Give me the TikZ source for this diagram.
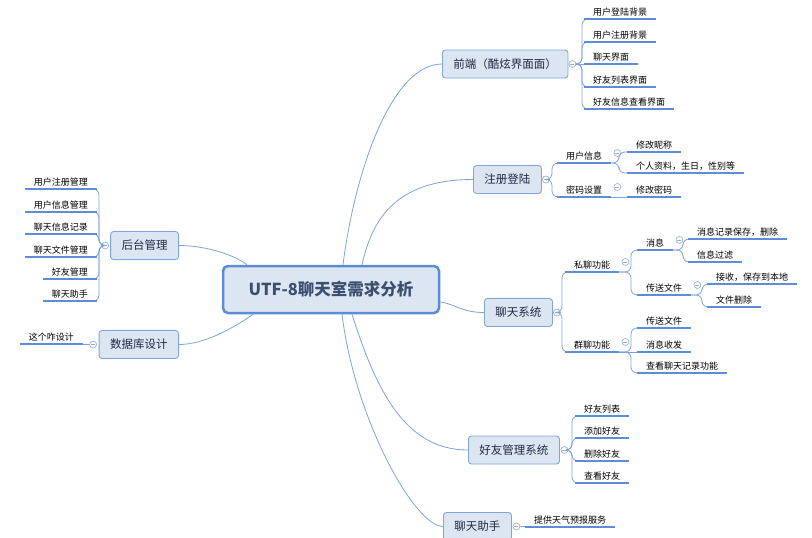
\documentclass[tikz,border=0pt]{standalone}
\usepackage{fontspec}
\newfontfamily\cjk{Noto Sans CJK SC}
\usetikzlibrary{calc}
\definecolor{linec}{HTML}{7BA3DD}
\definecolor{ulc}{HTML}{5B8ED6}
\definecolor{boxfill}{HTML}{DCE6F2}
\definecolor{boxdraw}{HTML}{7EA5DD}
\definecolor{cdraw}{HTML}{5A8DD5}
\definecolor{ctext}{HTML}{3B5070}
\definecolor{ttext}{HTML}{1F2A44}
\definecolor{btn}{HTML}{9DB2CF}
\tikzset{
  central/.style={draw=cdraw, line width=2.5pt, fill=boxfill, rounded corners=5pt, minimum width=216pt, minimum height=47pt, font=\cjk\fontsize{16.5}{19}\selectfont\bfseries, text=ctext},
  topic/.style={draw=boxdraw, line width=0.9pt, fill=boxfill, rounded corners=3pt, minimum height=28pt, inner xsep=11pt, font=\cjk\fontsize{11.5}{14}\selectfont, text=ttext},
  leaf/.style={inner xsep=9pt, inner ysep=2.5pt, font=\cjk\fontsize{9}{11}\selectfont, text=black},
  uline/.style={draw=ulc, line width=1.6pt},
  conn/.style={draw=linec, line width=0.8pt, rounded corners=6pt},
  curve/.style={draw=linec, line width=0.8pt},
  cbtn/.style={circle, draw=btn, fill=white, line width=0.7pt, minimum size=7pt, inner sep=0pt,
    path picture={\draw[btn, line width=0.6pt] ([xshift=-2pt]path picture bounding box.center) -- ([xshift=2pt]path picture bounding box.center);}},
}
\begin{document}
\begin{tikzpicture}[x=1pt, y=-1pt]
\useasboundingbox (0,0) rectangle (812,538);
% central and main topics
\node[central] (c) at (331,289.5) {UTF-8聊天室需求分析};
\node[topic, anchor=west] (fe) at (442,64) {前端（酷炫界面面）};
\node[topic, anchor=west] (zc) at (473,179.5) {注册登陆};
\node[topic, anchor=west] (lt) at (484,312.5) {聊天系统};
\node[topic, anchor=west] (hy) at (468,450) {好友管理系统};
\node[topic, anchor=west] (zs) at (443,526.5) {聊天助手};
\node[topic, anchor=east] (ht) at (179,245.5) {后台管理};
\node[topic, anchor=east] (db) at (179,344.5) {数据库设计};
% start points on the central topic
\coordinate (c-fe) at ([xshift=12pt]c.north);
\coordinate (c-zc) at ([xshift=31pt]c.north);
\coordinate (c-lt) at ([yshift=-12.5pt]c.east);
\coordinate (c-hy) at ([xshift=21pt]c.south);
\coordinate (c-zs) at ([xshift=11pt]c.south);
\coordinate (c-ht) at ([xshift=-84pt]c.north);
\coordinate (c-db) at ([xshift=-78pt]c.south);
% main curves
\draw[curve] (c-fe) .. controls (355,170) and (392,64) .. (fe.west);
\draw[curve] (c-zc) .. controls (372,220) and (395,179.5) .. (zc.west);
\draw[curve] (c-lt) .. controls (455,304) and (462,312.5) .. (lt.west);
\draw[curve] (c-hy) .. controls (376,390) and (405,450) .. (hy.west);
\draw[curve] (c-zs) .. controls (355,420) and (415,526.5) .. (zs.west);
\draw[curve] (c-ht) .. controls (230,252) and (200,245.5) .. (ht.east);
\draw[curve] (c-db) .. controls (235,327) and (205,344.5) .. (db.east);
% leaves
\node[leaf, anchor=south west] (fe1) at (584,19) {用户登陆背景};
\node[leaf, anchor=south west] (fe2) at (584,42) {用户注册背景};
\node[leaf, anchor=south west] (fe3) at (584,64) {聊天界面};
\node[leaf, anchor=south west] (fe4) at (584,87) {好友列表界面};
\node[leaf, anchor=south west] (fe5) at (584,109) {好友信息查看界面};
\node[leaf, anchor=south west] (zc1) at (557,163) {用户信息};
\node[leaf, anchor=south west] (zc2) at (557,197) {密码设置};
\node[leaf, anchor=south west] (zc11) at (627,152) {修改昵称};
\node[leaf, anchor=south west] (zc12) at (627,173) {个人资料，生日，性别等};
\node[leaf, anchor=south west] (zc21) at (627,197) {修改密码};
\node[leaf, anchor=south west] (lt1) at (565,272) {私聊功能};
\node[leaf, anchor=south west] (lt2) at (565,352) {群聊功能};
\node[leaf, anchor=south west] (lt11) at (637,250) {消息};
\node[leaf, anchor=south west] (lt12) at (637,295) {传送文件};
\node[leaf, anchor=south west] (lt111) at (688,239) {消息记录保存，删除};
\node[leaf, anchor=south west] (lt112) at (688,262) {信息过滤};
\node[leaf, anchor=south west] (lt121) at (707,284) {接收，保存到本地};
\node[leaf, anchor=south west] (lt122) at (707,307) {文件删除};
\node[leaf, anchor=south west] (lt21) at (637,328) {传送文件};
\node[leaf, anchor=south west] (lt22) at (637,352) {消息收发};
\node[leaf, anchor=south west] (lt23) at (637,373) {查看聊天记录功能};
\node[leaf, anchor=south west] (hy1) at (575,416) {好友列表};
\node[leaf, anchor=south west] (hy2) at (575,438) {添加好友};
\node[leaf, anchor=south west] (hy3) at (575,461) {删除好友};
\node[leaf, anchor=south west] (hy4) at (575,483) {查看好友};
\node[leaf, anchor=south west] (zs1) at (525,527) {提供天气预报服务};
\node[leaf, anchor=south east] (ht1) at (97,189) {用户注册管理};
\node[leaf, anchor=south east] (ht2) at (97,212) {用户信息管理};
\node[leaf, anchor=south east] (ht3) at (97,234) {聊天信息记录};
\node[leaf, anchor=south east] (ht4) at (97,257) {聊天文件管理};
\node[leaf, anchor=south east] (ht5) at (97,279) {好友管理};
\node[leaf, anchor=south east] (ht6) at (97,301) {聊天助手};
\node[leaf, anchor=south east] (db1) at (83,344) {这个咋设计};
% collapse buttons
\node[cbtn] (fe-c) at ([xshift=4pt]fe.east) {};
\node[cbtn] (zc-c) at ([xshift=4pt]zc.east) {};
\node[cbtn] (lt-c) at ([xshift=4pt]lt.east) {};
\node[cbtn] (hy-c) at ([xshift=4.5pt]hy.east) {};
\node[cbtn] (zs-c) at ([xshift=4.5pt]zs.east) {};
\node[cbtn] (ht-c) at ([xshift=-5pt]ht.west) {};
\node[cbtn] (db-c) at ([xshift=-5.5pt]db.west) {};
\foreach \n in {zc1,zc2,lt1,lt2,lt11,lt12}
  \node[cbtn] (\n-c) at ([xshift=6pt,yshift=10pt]\n.south east) {};
% elbow connectors
\foreach \n in {fe1,fe2,fe4,fe5}
  \draw[conn] (fe-c.east) -| ([xshift=-2pt]\n.south west) -- (\n.south);
\draw[conn] (fe-c.east) -- (fe3.south);
\foreach \n in {zc1,zc2}
  \draw[conn] (zc-c.east) -| ([xshift=-5pt]\n.south west) -- (\n.south);
\foreach \n in {zc11,zc12}
  \draw[conn] (zc1.south east) -| ([xshift=-8pt]\n.south west) -- (\n.south);
\draw[conn] (zc2.south east) -- (zc21.south);
\foreach \n in {lt1,lt2}
  \draw[conn] (lt-c.east) -| ([xshift=-3pt]\n.south west) -- (\n.south);
\foreach \n in {lt11,lt12}
  \draw[conn] (lt1.south east) -| ([xshift=-6pt]\n.south west) -- (\n.south);
\foreach \n in {lt111,lt112}
  \draw[conn] (lt11.south east) -| ([xshift=-5pt]\n.south west) -- (\n.south);
\foreach \n in {lt121,lt122}
  \draw[conn] (lt12.south east) -| ([xshift=-5pt]\n.south west) -- (\n.south);
\foreach \n in {lt21,lt23}
  \draw[conn] (lt2.south east) -| ([xshift=-6pt]\n.south west) -- (\n.south);
\draw[conn] (lt2.south east) -- (lt22.south);
\foreach \n in {hy1,hy2,hy3,hy4}
  \draw[conn] (hy-c.east) -| ([xshift=-3pt]\n.south west) -- (\n.south);
\draw[conn] (zs-c.east) -- (zs1.south);
\foreach \n in {ht1,ht2,ht3,ht4,ht5,ht6}
  \draw[conn] (ht-c.west) -| ([xshift=2pt]\n.south east) -- (\n.south);
\draw[conn] (db-c.west) -- (db1.south);
% underlines
\foreach \n in {fe1,fe2,fe3,fe4,fe5,zc1,zc2,zc11,zc12,zc21,lt1,lt2,lt11,lt12,lt111,lt112,lt121,lt122,lt21,lt22,lt23,hy1,hy2,hy3,hy4,zs1,ht1,ht2,ht3,ht4,ht5,ht6,db1}
  \draw[uline] (\n.south west) -- (\n.south east);
\end{tikzpicture}
\end{document}
